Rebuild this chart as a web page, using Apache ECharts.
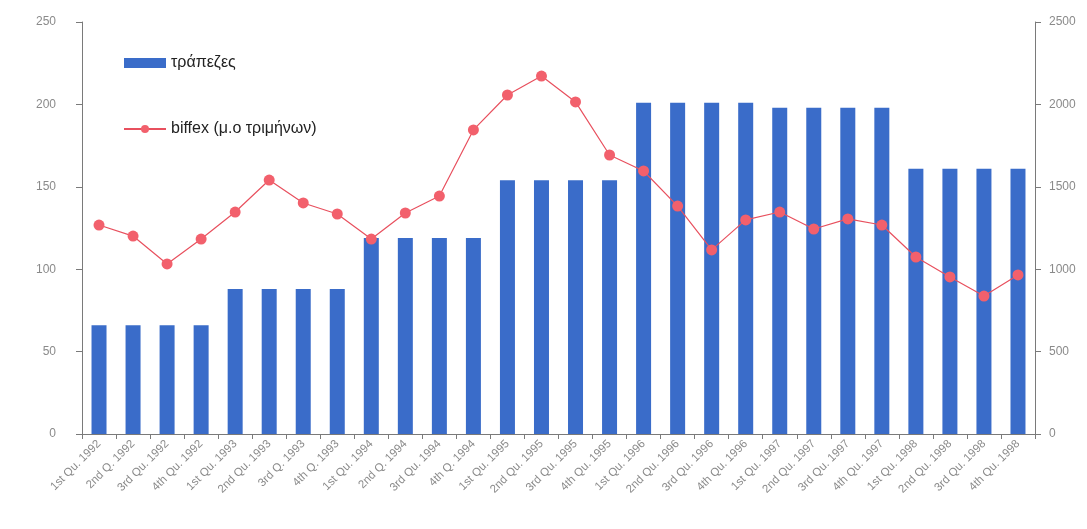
<!DOCTYPE html>
<html>
<head>
<meta charset="utf-8">
<script src="https://cdn.jsdelivr.net/npm/echarts@6/dist/echarts.min.js"></script>
<style>
  html, body { margin: 0; padding: 0; background: #fff; }
  #root { width: 1087px; height: 529px; }
</style>
</head>
<body>
<div id="root"></div>
<script>
// quarters 1992-1998
const quarters = [
  "1st Qu. 1992", "2nd Q. 1992", "3rd Qu. 1992", "4th Qu. 1992",
  "1st Qu. 1993", "2nd Qu. 1993", "3rd Q. 1993", "4th Q. 1993",
  "1st Qu. 1994", "2nd Q. 1994", "3rd Qu. 1994", "4th Q. 1994",
  "1st Qu. 1995", "2nd Qu. 1995", "3rd Qu. 1995", "4th Qu. 1995",
  "1st Qu. 1996", "2nd Qu. 1996", "3rd Qu. 1996", "4th Qu. 1996",
  "1st Qu. 1997", "2nd Qu. 1997", "3rd Qu. 1997", "4th Qu. 1997",
  "1st Qu. 1998", "2nd Qu. 1998", "3rd Qu. 1998", "4th Qu. 1998"
];

// τράπεζες (left axis)
const banks = [
  66, 66, 66, 66,
  88, 88, 88, 88,
  119, 119, 119, 119,
  154, 154, 154, 154,
  201, 201, 201, 201,
  198, 198, 198, 198,
  161, 161, 161, 161
];

// biffex quarterly average (right axis)
const biffex = [
  1268, 1201, 1032, 1183,
  1347, 1541, 1402, 1335,
  1183, 1341, 1444, 1845,
  2057, 2172, 2015, 1693,
  1596, 1383, 1117, 1299,
  1347, 1244, 1305, 1268,
  1074, 953, 837, 965
];

const leftTicks = [0, 50, 100, 150, 200, 250];
const rightTicks = [0, 500, 1000, 1500, 2000, 2500];

const axisGrey = "#7a7a7a";
const labelGrey = "#8a8a8a";

const chart = echarts.init(document.getElementById("root"));
chart.setOption({
  animation: false,
  backgroundColor: "#fff",
  textStyle: { fontFamily: "Liberation Sans, Arial, sans-serif" },
  grid: { left: 82, right: 52, top: 22, bottom: 95 },
  legend: {
    orient: "vertical",
    left: 118,
    top: 50,
    itemGap: 50,
    itemWidth: 42,
    itemHeight: 10,
    textStyle: { fontSize: 16, color: "#222" },
    data: [
      { name: "τράπεζες", icon: "rect" },
      { name: "biffex (μ.ο τριμήνων)" }
    ]
  },
  xAxis: {
    type: "category",
    data: quarters,
    axisLine: { lineStyle: { color: axisGrey } },
    axisTick: { show: true, length: 5, lineStyle: { color: axisGrey } },
    axisLabel: { rotate: 45, fontSize: 11.5, color: labelGrey, margin: 8, interval: 0 }
  },
  yAxis: [
    {
      type: "value",
      min: leftTicks[0],
      max: leftTicks[leftTicks.length - 1],
      interval: 50,
      splitLine: { show: false },
      axisLine: { show: true, lineStyle: { color: axisGrey } },
      axisTick: { show: true, length: 6, lineStyle: { color: axisGrey } },
      axisLabel: { fontSize: 12, color: labelGrey, margin: 26 }
    },
    {
      type: "value",
      min: rightTicks[0],
      max: rightTicks[rightTicks.length - 1],
      interval: 500,
      splitLine: { show: false },
      axisLine: { show: true, lineStyle: { color: axisGrey } },
      axisTick: { show: true, length: 6, lineStyle: { color: axisGrey } },
      axisLabel: { fontSize: 12, color: labelGrey, margin: 14, formatter: (v) => String(v) }
    }
  ],
  series: [
    {
      name: "τράπεζες",
      type: "bar",
      yAxisIndex: 0,
      barWidth: 15,
      itemStyle: { color: "#3a6cc9" },
      data: banks
    },
    {
      name: "biffex (μ.ο τριμήνων)",
      type: "line",
      yAxisIndex: 1,
      symbol: "circle",
      symbolSize: 11,
      lineStyle: { color: "#e8505e", width: 1.2 },
      itemStyle: { color: "#f2606c" },
      data: biffex
    }
  ]
});
</script>
</body>
</html>
